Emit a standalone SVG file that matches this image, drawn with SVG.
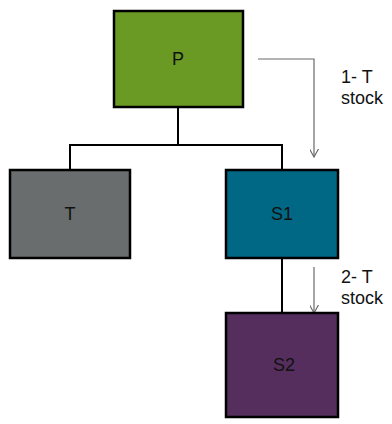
<svg xmlns="http://www.w3.org/2000/svg" width="392" height="424" viewBox="0 0 392 424">
<defs>
<style>
.box{stroke:#000;stroke-width:2.5}
.lbl{font-family:"Liberation Sans",Arial,sans-serif;font-size:18px;fill:#111;text-anchor:middle}
.note{font-family:"Liberation Sans",Arial,sans-serif;font-size:18px;fill:#111}
.tree{fill:none;stroke:#000;stroke-width:2}
.flow{fill:none;stroke:#6a6a6a;stroke-width:1.2;marker-end:url(#v)}
</style>
<marker id="v" viewBox="0 0 10 10" refX="9" refY="5" markerWidth="9" markerHeight="9" markerUnits="userSpaceOnUse" orient="auto">
<path d="M0,0 L9,5 L0,10" fill="none" stroke="#6a6a6a" stroke-width="1.3"/>
</marker>
</defs>
<rect width="392" height="424" fill="#fff"/>
<g id="connectors">
<path class="tree" d="M178,107 V145 M70,170 V145 H282 V170"/>
<path class="tree" d="M282,258 V313"/>
<path class="flow" d="M258,59 H314 V157"/>
<path class="flow" d="M314,267 V313"/>
</g>
<g id="P"><rect class="box" x="114" y="11" width="129" height="96" fill="#6A9A23"/><text class="lbl" x="178" y="65">P</text></g>
<g id="T"><rect class="box" x="10" y="170" width="120" height="88" fill="#6A6D6E"/><text class="lbl" x="70" y="220">T</text></g>
<g id="S1"><rect class="box" x="226" y="170" width="112" height="88" fill="#006884"/><text class="lbl" x="282" y="220">S1</text></g>
<g id="S2"><rect class="box" x="226" y="313" width="112" height="104" fill="#552E5E"/><text class="lbl" x="284" y="371">S2</text></g>
<g id="notes">
<text class="note" x="341" y="83">1- T</text>
<text class="note" x="341" y="104">stock</text>
<text class="note" x="341" y="283">2- T</text>
<text class="note" x="341" y="304">stock</text>
</g>
</svg>
